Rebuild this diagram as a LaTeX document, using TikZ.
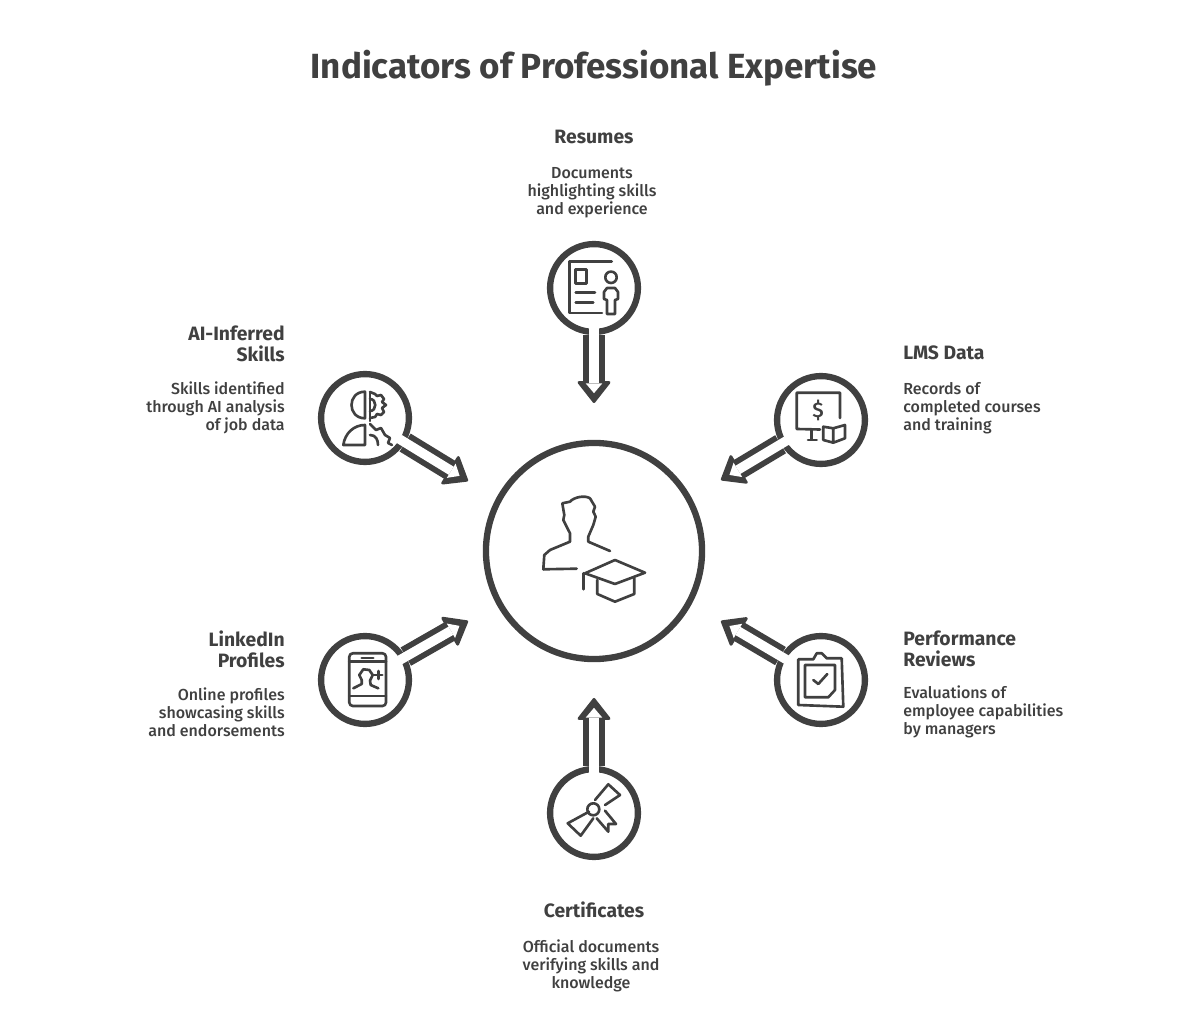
\documentclass[tikz,border=0pt]{standalone}
\usepackage{fontspec}
\setmainfont{Fira Sans}[UprightFont={* Medium},BoldFont={* Bold}]
\usepackage{tikz}
\usetikzlibrary{arrows.meta,positioning,calc}
\definecolor{inkgray}{HTML}{404040}
\tikzset{
  ring/.style={circle,draw=inkgray,line width=3.6pt,inner sep=0pt,minimum size=#1},
  spokeout/.style={draw=inkgray,line width=12pt,-{Triangle[round,length=13pt,width=20pt,line width=1.6pt,fill=inkgray]}},
  spokein/.style={draw=white,line width=5.4pt,shorten <=-4pt,shorten >=5.6pt,-{Triangle[length=5.6pt,width=9.5pt,line width=0pt,fill=white]}},
  icon/.style={draw=inkgray,line width=1.5pt,line join=round,line cap=round},
  head/.style={text=inkgray,font=\fontsize{11}{12}\selectfont\bfseries,inner sep=0pt},
  body/.style={text=inkgray,font=\fontsize{9.1}{10.2}\selectfont,inner sep=0pt},
}
\begin{document}
\begin{tikzpicture}[x=0.02cm,y=-0.02cm,>=Stealth]
\useasboundingbox (0,0) rectangle (1188,1013);
\node[text=inkgray,font=\fontsize{19.9}{22}\selectfont\bfseries,inner sep=0pt] (title) at (594,68) {Indicators of Professional Expertise};
\node[ring=123pt] (hub) at (594,551) {};
\node[ring=50pt] (resumes) at (594,288) {};
\node[ring=50pt] (aiskills) at (365,418) {};
\node[ring=50pt] (lms) at (821,420) {};
\node[ring=50pt] (linkedin) at (365,680) {};
\node[ring=50pt] (reviews) at (821,680) {};
\node[ring=50pt] (certs) at (594,813) {};
\coordinate (resumesTip) at (594,403);
\coordinate (aiskillsTip) at (468,481);
\coordinate (lmsTip) at (721,480);
\coordinate (linkedinTip) at (468,621);
\coordinate (reviewsTip) at (721,621);
\coordinate (certsTip) at (594,698);
\draw[spokeout] (resumes) -- (resumesTip);
\draw[spokein] (resumes) -- (resumesTip);
\draw[spokeout] (aiskills) -- (aiskillsTip);
\draw[spokein] (aiskills) -- (aiskillsTip);
\draw[spokeout] (lms) -- (lmsTip);
\draw[spokein] (lms) -- (lmsTip);
\draw[spokeout] (linkedin) -- (linkedinTip);
\draw[spokein] (linkedin) -- (linkedinTip);
\draw[spokeout] (reviews) -- (reviewsTip);
\draw[spokein] (reviews) -- (reviewsTip);
\draw[spokeout] (certs) -- (certsTip);
\draw[spokein] (certs) -- (certsTip);
\draw[icon] (543.3,569.3) -- (544.3,555) -- (550,550) -- (570,541.7) -- (570,533.3) -- (563.3,520) -- (564.3,515) -- (562.3,503.3) -- (570,501.7) .. controls (574,497) and (585,495) .. (590,498.3) -- (595,506.7) -- (593.3,511.7) -- (595.7,516.7) -- (593.3,525) -- (588.3,536.7) -- (588.3,541.7) -- (610,551);
\draw[icon] (543.3,569.3) -- (576.7,568.7);
\draw[icon] (585,573.3) -- (615,560) -- (645,572.7) -- (615,584) -- cycle;
\draw[icon] (583.3,573.3) -- (583.3,589.3);
\draw[icon] (597.3,580) -- (597.3,594) -- (615,601.7) -- (634.3,594) -- (634.3,578.3);
\draw[icon] (611.7,261.7) -- (569.3,261.7) -- (569.3,313) -- (602,313);
\draw[icon] (575.7,269.3) rectangle (586.7,283.3);
\draw[icon] (575.7,292.7) -- (595,292.7);
\draw[icon] (575.7,302.3) -- (593.3,302.3);
\draw[icon] (611,277.3) circle[radius=5.7];
\draw[icon] (607,314) -- (607,300) -- (604,299) -- (604,292) -- (607,288) -- (615,288) -- (618,292) -- (618,299) -- (615,300) -- (615,314) -- cycle;
\draw[icon] (365,391.7) .. controls (347,391.7) and (347,418.3) .. (365,418.3) -- cycle;
\draw[icon] (343.3,445) .. controls (345,433) and (354,425) .. (365,425) -- (365,445) -- cycle;
\draw[icon] (370,392) -- (370,421);
\draw[icon] (370,392) -- (375,394) -- (377,396) -- (381,395) -- (384,399) -- (382,402) -- (386,405) -- (382,408) -- (384,412) -- (381,415) -- (377,414) -- (375,417) -- (370,418);
\draw[icon] (370,399) .. controls (377,399) and (377,411) .. (370,411);
\draw[icon] (370,424) -- (376,430) -- (381,428) -- (385,435) -- (390,438) -- (388,443) -- (392,445);
\draw[icon] (370,435) .. controls (376,435) and (378,440) .. (378,445);
\draw[icon] (840,418) -- (840,392.7) -- (796.7,392.7) -- (796.7,429) -- (820,429.5);
\draw[icon] (811.7,430) -- (811.7,439);
\draw[icon] (808,440) -- (816.7,440);
\node[text=inkgray,font=\fontsize{12}{14}\selectfont,inner sep=0pt] (dollar) at (818,410) {\$};
\draw[icon] (833.3,428.3) -- (823.3,426.7) -- (823.3,440) -- (833.3,442.7) -- (845,438.3) -- (845,425) -- (833.3,428.3) -- (833.3,442.7);
\draw[icon,rounded corners=2pt] (349.3,653.3) rectangle (386,706);
\draw[icon] (349.3,661.7) -- (386,661.7);
\draw[icon] (349.3,696) -- (386,696);
\draw[icon] (361.7,658) -- (373.3,658);
\draw[icon] (353.3,688.3) -- (361.7,684) -- (361.7,680) -- (359.3,675) -- (363.3,669.3) -- (369.3,670) -- (372.7,675) -- (370,680.7) -- (370.7,685) -- (378.3,688.3);
\draw[icon] (374.3,675) -- (382.3,675);
\draw[icon] (378.3,671) -- (378.3,679);
\draw[icon] (798.3,659.3) -- (798.3,705) -- (843.3,706.7) -- (841.7,658.3) -- (826.7,658.3) -- (821.7,653.3) -- (816.7,653.3) -- (813.3,659.3) -- cycle;
\draw[icon] (805,665) -- (805,697.3) -- (828.3,697.3) -- (835,690) -- (835,665) -- cycle;
\draw[icon] (813.3,680) -- (818.3,684) -- (827.3,674);
\draw[icon] (595,800) -- (608.3,784.3) -- (620,795) -- (605,805);
\draw[icon] (589,811.7) -- (567.7,823.3) -- (580.7,835.7) -- (593.3,818.3);
\draw[icon] (593.3,809.3) circle[radius=6];
\draw[icon] (605,810.7) -- (616,824) -- (608.3,824) -- (608.3,831.7) -- (596.7,818.3);
\node[head] (resumesHead) at (594,137) {Resumes};
\node[body,align=center] (resumesBody) at (592,193) {Documents\\highlighting skills\\and experience};
\node[head,align=right,anchor=east] (aiskillsHead) at (285,343.5) {AI-Inferred\\Skills};
\node[body,align=right,anchor=east] (aiskillsBody) at (285,408) {Skills identified\\through AI analysis\\of job data};
\node[head,anchor=west] (lmsHead) at (903,353) {LMS Data};
\node[body,align=left,anchor=west] (lmsBody) at (903,408) {Records of\\completed courses\\and training};
\node[head,align=right,anchor=east] (linkedinHead) at (285,649.5) {LinkedIn\\Profiles};
\node[body,align=right,anchor=east] (linkedinBody) at (285,712) {Online profiles\\showcasing skills\\and endorsements};
\node[head,align=left,anchor=west] (reviewsHead) at (903,648.5) {Performance\\Reviews};
\node[body,align=left,anchor=west] (reviewsBody) at (903,712) {Evaluations of\\employee capabilities\\by managers};
\node[head] (certsHead) at (594,910) {Certificates};
\node[body,align=center] (certsBody) at (591,966) {Official documents\\verifying skills and\\knowledge};
\end{tikzpicture}
\end{document}
